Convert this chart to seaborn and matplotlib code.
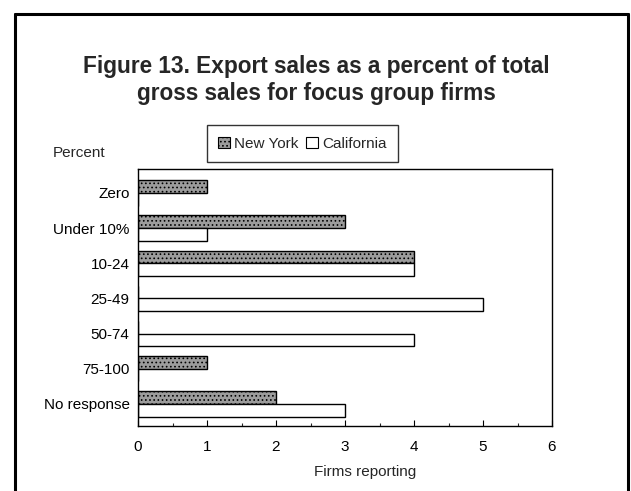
import matplotlib
matplotlib.use("Agg")
import matplotlib.pyplot as plt
import seaborn as sns
import pandas as pd
from matplotlib.patches import Patch
from matplotlib.ticker import MultipleLocator

# data
categories = ["Zero", "Under 10%", "10-24", "25-49", "50-74", "75-100", "No response"]
new_york = [1, 3, 4, 0, 0, 1, 2]
california = [0, 1, 4, 5, 4, 0, 3]
states = ["New York", "California"]

df = pd.DataFrame({
    "Percent": categories * 2,
    "Firms": new_york + california,
    "State": [states[0]] * len(categories) + [states[1]] * len(categories),
})

sns.set_style("white")
plt.rcParams["font.family"] = ["Liberation Sans", "DejaVu Sans"]
plt.rcParams["hatch.color"] = "#2a2a2a"
plt.rcParams["hatch.linewidth"] = 0.7

NY_FILL = "#9c9c9c"

fig = plt.figure(figsize=(6.31, 4.91), dpi=100)
ax = fig.add_axes([138 / 631, 1 - 426 / 491, (552 - 138) / 631, (426 - 169) / 491])

sns.barplot(data=df, x="Firms", y="Percent", hue="State", orient="h",
            palette={"New York": NY_FILL, "California": "white"},
            width=0.72, edgecolor="black", linewidth=1.0, ax=ax, legend=False)

# stipple on the New York bars
for bar in ax.containers[0]:
    bar.set_hatch("....")

ax.set_xlim(0, 6)
ax.set_ylim(6.63, -0.68)
ax.xaxis.set_major_locator(MultipleLocator(1))
ax.xaxis.set_minor_locator(MultipleLocator(0.5))
ax.tick_params(axis="x", which="major", direction="in", length=4.5, width=0.8,
               bottom=True, labelsize=11, pad=10, colors="black")
ax.tick_params(axis="x", which="minor", direction="in", length=2.2, width=0.8, bottom=True)
ax.tick_params(axis="y", length=0, labelsize=11, pad=6, colors="black")
for s in ax.spines.values():
    s.set_color("black")
    s.set_linewidth(1.0)

ax.set_ylabel("")
ax.set_xlabel("Firms reporting", fontsize=11)
ax.xaxis.set_label_coords(0.548, -0.152)

fig.text(53 / 631, 1 - 153 / 491, "Percent", fontsize=11, va="center", ha="left")

fig.text(0.501, 1 - 100 / 491, "Figure 13. Export sales as a percent of total\ngross sales for focus group firms",
         fontsize=16.3, fontweight="bold", ha="center", va="baseline", linespacing=1.2)

handles = [
    Patch(facecolor=NY_FILL, edgecolor="black", hatch="....", linewidth=0.8, label=states[0]),
    Patch(facecolor="white", edgecolor="black", linewidth=0.8, label=states[1]),
]
leg = fig.legend(handles=handles, loc="center", bbox_to_anchor=(302.5 / 631, 1 - 143.5 / 491),
                 ncol=2, fontsize=11, frameon=True, fancybox=False, shadow=False,
                 handlelength=0.75, handleheight=0.75, handletextpad=0.3,
                 columnspacing=0.5, borderpad=0.75, borderaxespad=0)
leg.get_frame().set_edgecolor("black")
leg.get_frame().set_linewidth(1.0)

# outer page frame, open at the bottom
fx0, fx1, fy1 = 15 / 631, 628 / 631, 1 - 14 / 491
for xs, ys in [([fx0, fx0], [-0.05, fy1]), ([fx0, fx1], [fy1, fy1]), ([fx1, fx1], [fy1, -0.05])]:
    fig.add_artist(plt.Line2D(xs, ys, color="black", linewidth=2.2, transform=fig.transFigure))

fig.savefig("out.png", dpi=100)
